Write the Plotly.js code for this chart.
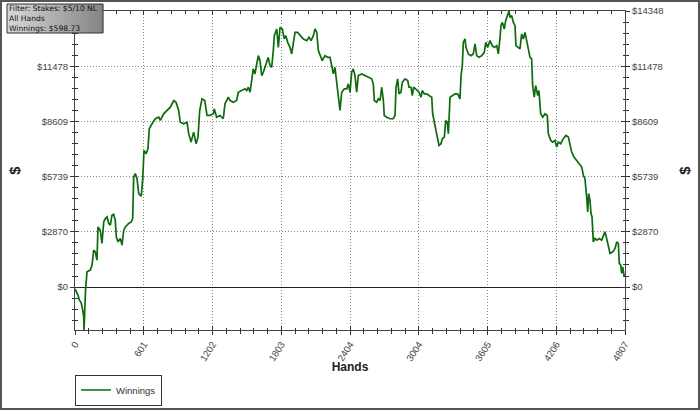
<!DOCTYPE html>
<html>
<head>
<meta charset="utf-8">
<script src="https://cdn.plot.ly/plotly-3.0.1.min.js"></script>
<style>
html,body{margin:0;padding:0;background:#fff;}
#wrap{position:relative;width:700px;height:410px;}
#chart{width:700px;height:410px;}
#frame{position:absolute;left:0;top:0;width:700px;height:410px;box-sizing:border-box;border:2px solid #555;pointer-events:none;}
</style>
</head>
<body>
<div id="wrap"><div id="chart"></div><div id="frame"></div></div>
<script>
const hands = [0,26,38,55,67,76,79,82,88,92,105,134,149,163,177,192,201,221,236,251,
265,280,295,309,323,338,352,361,376,396,411,426,440,469,492,504,513,527,542,557,
579,592,603,621,638,649,673,702,732,746,775,804,833,863,883,906,920,950,979,994,
1014,1037,1058,1075,1090,1110,1134,1154,1180,1209,1217,1238,1267,1296,1311,1340,1355,1384,1413,1427,
1457,1486,1501,1515,1530,1544,1558,1573,1588,1602,1617,1632,1646,1661,1675,1689,1704,1719,1733,1742,
1763,1777,1792,1812,1829,1842,1859,1879,1894,1908,1923,1946,1967,1996,2025,2045,2063,2083,2098,2113,
2127,2141,2161,2185,2209,2229,2244,2258,2272,2287,2301,2316,2331,2354,2375,2389,2404,2418,2432,2447,
2462,2476,2506,2535,2563,2593,2607,2616,2637,2651,2666,2681,2695,2703,2724,2753,2782,2797,2806,2820,
2832,2849,2861,2884,2908,2919,2937,2948,2960,2986,3007,3024,3035,3053,3074,3094,3118,3126,3140,3153,
3170,3181,3199,3210,3228,3240,3254,3263,3278,3298,3321,3345,3365,3374,3385,3394,3409,3417,3438,3461,
3481,3496,3511,3531,3555,3577,3590,3607,3627,3647,3665,3686,3700,3715,3723,3735,3752,3764,3782,3793,
3802,3817,3831,3846,3854,3874,3889,3904,3918,3933,3948,3962,3977,3991,4000,4014,4026,4044,4055,4064,
4070,4088,4108,4128,4137,4158,4175,4195,4210,4224,4245,4268,4291,4312,4326,4341,4361,4385,4408,4429,
4443,4457,4472,4481,4490,4501,4510,4519,4530,4545,4560,4582,4603,4617,4632,4647,4661,4676,4700,4720,
4735,4749,4757,4770,4778,4787,4798,4807];

const winnings = [-100,-415,-674,-830,-1193,-1540,-2230,-1500,-700,-150,793,881,1141,1918,1830,1400,3127,2955,2266,3386,
3562,3645,3303,3215,3733,3785,3474,2608,2349,2525,2178,2955,3127,3303,3386,3562,5719,5895,5636,4858,
4718,5636,7103,6932,7192,8229,8488,8747,8830,8659,9006,9177,9349,9696,9608,9177,8571,8488,8571,7969,
7534,8052,7451,7793,9177,9784,9696,8918,8918,9006,9265,8830,8918,8747,9525,9867,9696,9608,9696,10126,
10214,10302,10214,10386,10126,10821,11340,11080,11511,12029,11770,10992,11163,11423,11599,11941,11511,11423,12288,13066,
13413,12459,13496,13413,12895,13066,12719,12459,12117,12636,13237,13237,13066,12895,12807,12978,12807,13066,13413,13237,
12288,12029,11770,12029,11941,11941,11423,11080,11423,10562,10126,9177,10126,10302,10302,10562,10126,11163,11340,10992,
10126,10992,11080,10992,10904,10821,10562,9696,9608,9784,9696,10386,9696,8918,8830,8747,8747,8918,10386,10821,
10043,10126,10645,10821,10733,10386,10386,9955,10386,10214,10126,9867,10214,10043,10043,9955,9867,9006,8571,8052,
7622,7363,7451,7710,7793,8659,8571,7969,9867,9955,10043,10043,9784,10992,11511,12719,12895,12459,12117,12029,
12117,12636,12029,11941,12029,12200,12719,12459,12807,12548,12459,12548,12117,12978,13585,13756,13413,13844,14191,14348,
14015,14103,13756,13585,12548,12459,12377,13154,12895,13237,12719,12377,11941,11858,10474,9867,10474,9955,10214,9437,
9006,8830,9006,8918,7969,7622,7534,7622,7274,7534,7451,7710,7881,7793,7451,7015,6756,6585,6414,6237,
5807,5636,4682,3904,4858,4511,3821,3645,2349,2525,2437,2525,2437,2696,2867,2525,2090,1747,1830,2007,
2349,2266,1229,1141,710,1053,622,598.73];

const xTickVals = [0, 600.875, 1201.75, 1802.625, 2403.5, 3004.375, 3605.25, 4206.125, 4807];
const xTickText = ['0','601','1202','1803','2404','3004','3605','4206','4807'];
const yTickVals = [0, 2869.6, 5739.2, 8608.8, 11478.4, 14348];
const yTickText = ['$0','$2870','$5739','$8609','$11478','$14348'];
// on the left, the top label sits under the info box and is not visible
const yTickTextLeft = ['$0','$2870','$5739','$8609','$11478',''];
const xRange = [0, 4807];
const yRange = [-2232, 14348];
const infoLines = ['Filter: Stakes: $5/10 NL', 'All Hands', 'Winnings: $598.73'];

const FONT = 'Liberation Sans, Arial, sans-serif';
const tickFont = {family: FONT, size: 9.5, color: '#444'};
const xMinor = {tickmode: 'linear', tick0: 0, dtick: 4807/40, ticklen: 2.5, tickcolor: '#333', showgrid: false};
const yMinor = {tickmode: 'linear', tick0: 0, dtick: 14348/25, ticklen: 2.5, tickcolor: '#333', showgrid: false};
const GRID = {showgrid: true, gridcolor: '#8a8a8a', griddash: '1px,2px', gridwidth: 1};

const traces = [
  {x: hands, y: winnings, type: 'scatter', mode: 'lines', name: 'Winnings',
   line: {color: '#0d6b0d', width: 1.7}, xaxis: 'x', yaxis: 'y', hoverinfo: 'skip'},
  {x: hands, y: winnings, type: 'scatter', mode: 'lines', showlegend: false,
   line: {color: 'rgba(0,0,0,0)', width: 0}, xaxis: 'x', yaxis: 'y2', hoverinfo: 'skip'},
  {x: hands, y: winnings, type: 'scatter', mode: 'lines', showlegend: false,
   line: {color: 'rgba(0,0,0,0)', width: 0}, xaxis: 'x2', yaxis: 'y3', hoverinfo: 'skip'}
];

// gradient info box
const shapes = [];
const bx0 = (7-75)/550, bx1 = (103-75)/550, by0 = (330-33)/319, by1 = (330-4)/319;
const nStrips = 24;
for (let i = 0; i < nStrips; i++) {
  const t = i/(nStrips-1);
  const c = Math.round(214 - t*80);
  shapes.push({type: 'rect', xref: 'paper', yref: 'paper', layer: 'above',
    x0: bx0 + (bx1-bx0)*i/nStrips, x1: bx0 + (bx1-bx0)*(i+1)/nStrips + 0.0005,
    y0: by0, y1: by1, line: {width: 0}, fillcolor: `rgb(${c},${c},${c})`});
}
shapes.push({type: 'rect', xref: 'paper', yref: 'paper', layer: 'above',
  x0: bx0, x1: bx1, y0: by0, y1: by1, line: {width: 1, color: '#333'}, fillcolor: 'rgba(0,0,0,0)'});

const annotations = [{
  text: infoLines.join('<br>'), xref: 'paper', yref: 'paper', x: (8-75)/550, y: (330-18.5)/319,
  xanchor: 'left', yanchor: 'middle', align: 'left', showarrow: false, borderpad: 0,
  font: {family: 'DejaVu Sans, Verdana, sans-serif', size: 7.6, color: '#111'}
}];

const layout = {
  width: 700, height: 410,
  margin: {l: 75, r: 75, t: 11, b: 80, pad: 0},
  paper_bgcolor: '#fff', plot_bgcolor: '#fff',
  font: {family: FONT, color: '#333'},
  showlegend: true,
  legend: {xref: 'paper', x: 0, xanchor: 'left', yref: 'container', y: 1 - 390/410, yanchor: 'middle',
    bordercolor: '#333', borderwidth: 1, bgcolor: '#fff', itemwidth: 30,
    font: {family: FONT, size: 9.5, color: '#333'}},
  xaxis: Object.assign({range: xRange, tickmode: 'array', tickvals: xTickVals, ticktext: xTickText,
    ticks: 'outside', ticklen: 4, tickcolor: '#333', tickangle: -58, tickfont: tickFont,
    showline: true, linecolor: '#444', linewidth: 1, zeroline: false, automargin: false,
    minor: Object.assign({ticks: 'outside'}, xMinor),
    title: {text: 'Hands', font: {family: FONT, size: 12, color: '#222', weight: 'bold'}, standoff: 11},
    fixedrange: true}, GRID),
  xaxis2: {overlaying: 'x', side: 'bottom', anchor: 'y', range: xRange, tickmode: 'array', tickvals: xTickVals,
    ticks: 'inside', ticklen: 4, tickcolor: '#333', mirror: 'allticks', showline: true, linecolor: '#444',
    showticklabels: false, showgrid: false, zeroline: false, automargin: false,
    minor: Object.assign({ticks: 'inside'}, xMinor), fixedrange: true},
  yaxis: Object.assign({range: yRange, tickmode: 'array', tickvals: yTickVals, ticktext: yTickTextLeft,
    ticks: 'outside', ticklen: 4, tickcolor: '#333', tickfont: tickFont,
    showline: true, linecolor: '#444', linewidth: 1, automargin: false,
    zeroline: true, zerolinecolor: '#222', zerolinewidth: 1,
    minor: Object.assign({ticks: 'outside'}, yMinor),
    title: {text: '$', font: {family: FONT, size: 15, color: '#222', weight: 'bold'}, standoff: 12},
    fixedrange: true}, GRID),
  yaxis2: {overlaying: 'y', side: 'right', anchor: 'x', range: yRange, tickmode: 'array', tickvals: yTickVals, ticktext: yTickText,
    ticks: 'outside', ticklen: 4, tickcolor: '#333', tickfont: tickFont, automargin: false,
    showline: true, linecolor: '#444', linewidth: 1, showgrid: false, zeroline: false,
    minor: Object.assign({ticks: 'outside'}, yMinor),
    title: {text: '$', font: {family: FONT, size: 15, color: '#222', weight: 'bold'}, standoff: 16},
    fixedrange: true},
  yaxis3: {overlaying: 'y', side: 'left', anchor: 'x', range: yRange, tickmode: 'array', tickvals: yTickVals,
    ticks: 'inside', ticklen: 4, tickcolor: '#333', mirror: 'allticks', showline: false, automargin: false,
    showticklabels: false, showgrid: false, zeroline: false,
    minor: Object.assign({ticks: 'inside'}, yMinor), fixedrange: true},
  shapes: shapes,
  annotations: annotations
};

Plotly.newPlot('chart', traces, layout, {displayModeBar: false, staticPlot: true});
</script>
</body>
</html>
